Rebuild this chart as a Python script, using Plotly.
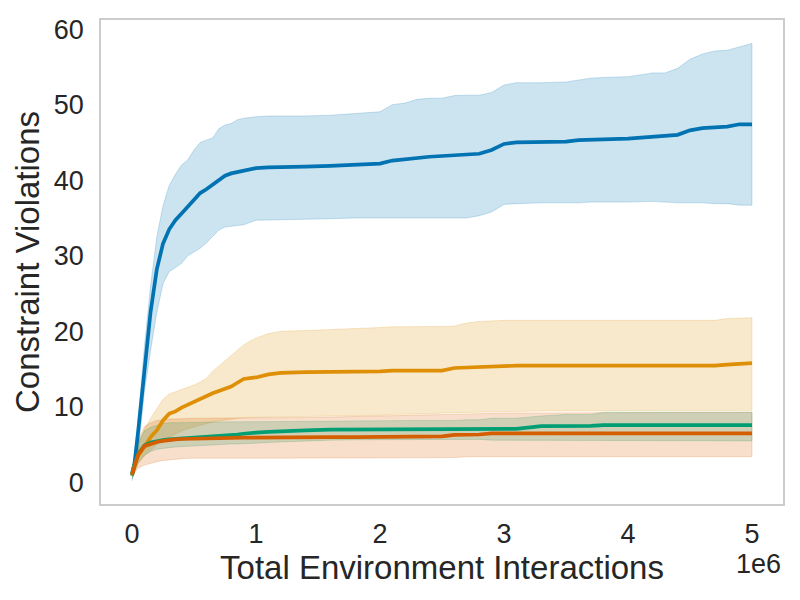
import plotly.graph_objects as go

# x positions in millions of environment interactions
x_m = [0, 0.02, 0.05, 0.1, 0.15, 0.2, 0.25, 0.3, 0.35, 0.4, 0.45, 0.5, 0.55, 0.6, 0.65, 0.7,
       0.75, 0.8, 0.85, 0.9, 0.95, 1.0, 1.1, 1.2, 1.4, 1.6, 1.8, 2.0, 2.1, 2.2, 2.3, 2.4, 2.5,
       2.6, 2.7, 2.8, 2.9, 3.0, 3.1, 3.3, 3.5, 3.6, 3.7, 3.8, 4.0, 4.2, 4.3, 4.4, 4.5, 4.6,
       4.7, 4.8, 4.9, 5.0]

blue_mean = [1.2, 2.5, 6.8, 15.3, 22.6, 28.2, 31.6, 33.5, 34.7, 35.6, 36.5, 37.4, 38.3, 38.8, 39.4, 40.1,
             40.6, 40.9, 41.1, 41.3, 41.4, 41.6, 41.7, 41.7, 41.8, 41.9, 42.0, 42.2, 42.6, 42.8, 43.0, 43.1, 43.2,
             43.3, 43.4, 43.5, 44.0, 44.8, 45.0, 45.0, 45.1, 45.3, 45.4, 45.4, 45.5, 45.7, 45.8, 46.0, 46.6, 46.9,
             47.0, 47.1, 47.4, 47.4]
blue_upper = [1.8, 3.5, 8.5, 18.0, 26.0, 32.5, 36.6, 39.3, 40.8, 42.0, 42.7, 44.0, 45.0, 45.3, 45.6, 46.8,
              47.3, 47.5, 48.0, 48.2, 48.3, 48.4, 48.5, 48.5, 48.5, 48.6, 48.8, 49.05, 50.0, 50.2, 50.7, 50.85, 50.85,
              51.2, 51.25, 51.25, 51.6, 52.6, 52.9, 52.9, 53.0, 53.3, 53.5, 53.6, 53.7, 54.2, 54.2, 54.8, 56.0, 56.7,
              57.1, 57.2, 57.7, 58.1]
blue_lower = [0.2, 1.5, 4.0, 12.0, 17.5, 22.5, 26.3, 27.9, 28.4, 29.0, 30.0, 30.5, 31.0, 31.7, 32.5, 33.4,
              33.8, 33.9, 34.0, 34.1, 34.4, 34.7, 34.7, 34.7, 34.8, 34.9, 35.0, 35.0, 35.0, 35.0, 35.0, 35.0, 35.0,
              35.0, 35.0, 35.3, 35.8, 36.8, 36.9, 37.0, 37.0, 37.0, 37.1, 37.1, 37.1, 37.2, 37.1, 37.0, 37.0, 37.0,
              36.9, 36.9, 36.7, 36.7]

orange_mean = [1.0, 2.3, 3.5, 4.8, 6.0, 6.9, 8.2, 9.1, 9.4, 9.9, 10.3, 10.6, 11.0, 11.4, 11.8, 12.1,
               12.4, 12.7, 13.2, 13.7, 13.8, 13.9, 14.3, 14.5, 14.6, 14.6, 14.7, 14.7, 14.8, 14.8, 14.8, 14.8, 14.8,
               15.15, 15.2, 15.35, 15.4, 15.45, 15.45, 15.45, 15.45, 15.45, 15.45, 15.45, 15.45, 15.45, 15.45, 15.45, 15.45, 15.45,
               15.45, 15.6, 15.65, 15.8]
orange_upper = [1.2, 3.2, 5.0, 7.0, 8.5, 9.8, 11.0, 11.7, 12.0, 12.3, 12.5, 12.9, 13.3, 13.8, 14.7, 15.4,
                16.2, 16.9, 17.6, 18.2, 18.7, 19.1, 19.7, 20.0, 20.1, 20.2, 20.3, 20.5, 20.6, 20.6, 20.6, 20.65, 20.65,
                20.7, 21.1, 21.3, 21.4, 21.45, 21.45, 21.45, 21.45, 21.45, 21.45, 21.45, 21.45, 21.45, 21.45, 21.45, 21.45, 21.45,
                21.45, 21.7, 21.75, 21.8]
orange_lower = [0.6, 1.5, 2.5, 3.5, 4.3, 5.0, 5.6, 6.0, 6.4, 6.8, 7.1, 7.4, 7.6, 7.8, 8.0, 8.2,
                8.3, 8.4, 8.5, 8.6, 8.6, 8.6, 8.65, 8.7, 8.75, 8.8, 8.85, 8.9, 9.0, 9.0, 9.1, 9.1, 9.2,
                9.2, 9.3, 9.3, 9.35, 9.4, 9.4, 9.45, 9.45, 9.45, 9.45, 9.5, 9.5, 9.5, 9.5, 9.5, 9.5, 9.5,
                9.5, 9.55, 9.55, 9.55]

green_mean = [0.9, 2.3, 3.8, 4.9, 5.3, 5.5, 5.6, 5.7, 5.75, 5.8, 5.85, 5.9, 6.0, 6.1, 6.1, 6.2,
              6.25, 6.3, 6.35, 6.45, 6.55, 6.6, 6.7, 6.8, 6.9, 7.0, 7.0, 7.0, 7.0, 7.0, 7.0, 7.0, 7.0,
              7.05, 7.05, 7.05, 7.1, 7.1, 7.1, 7.45, 7.45, 7.45, 7.5, 7.6, 7.6, 7.6, 7.6, 7.6, 7.6, 7.6,
              7.6, 7.6, 7.6, 7.6]
green_upper = [1.2, 3.2, 5.2, 6.8, 7.3, 7.6, 7.8, 7.9, 7.9, 7.9, 7.95, 7.95, 7.95, 8.0, 8.0, 8.0,
               8.0, 8.0, 8.0, 8.0, 8.0, 8.0, 8.05, 8.1, 8.1, 8.1, 8.15, 8.2, 8.2, 8.2, 8.2, 8.2, 8.2,
               8.2, 8.3, 8.3, 8.5, 8.5, 8.5, 8.8, 9.0, 9.0, 9.0, 9.3, 9.3, 9.3, 9.3, 9.3, 9.3, 9.3,
               9.3, 9.3, 9.3, 9.3]
green_lower = [0.5, 1.4, 2.6, 3.6, 4.1, 4.4, 4.5, 4.6, 4.7, 4.8, 4.85, 4.9, 4.95, 5.0, 5.0, 5.05,
               5.05, 5.1, 5.1, 5.15, 5.15, 5.2, 5.3, 5.4, 5.5, 5.6, 5.65, 5.7, 5.7, 5.7, 5.7, 5.7, 5.7,
               5.7, 5.7, 5.7, 5.6, 5.5, 5.5, 5.5, 5.5, 5.5, 5.5, 5.5, 5.5, 5.5, 5.5, 5.5, 5.5, 5.5,
               5.5, 5.5, 5.5, 5.5]

verm_mean = [1.0, 2.2, 3.7, 4.8, 5.1, 5.35, 5.5, 5.65, 5.7, 5.75, 5.78, 5.8, 5.82, 5.85, 5.87, 5.9,
             5.9, 5.9, 5.92, 5.93, 5.94, 5.95, 5.97, 6.0, 6.0, 6.0, 6.0, 6.0, 6.02, 6.05, 6.07, 6.1, 6.1,
             6.3, 6.32, 6.35, 6.5, 6.5, 6.5, 6.5, 6.5, 6.5, 6.5, 6.5, 6.5, 6.5, 6.5, 6.5, 6.5, 6.5,
             6.5, 6.5, 6.5, 6.5]
verm_upper = [1.3, 3.0, 5.5, 7.4, 7.9, 8.2, 8.3, 8.4, 8.4, 8.45, 8.45, 8.5, 8.5, 8.5, 8.5, 8.5,
              8.5, 8.5, 8.5, 8.5, 8.5, 8.5, 8.52, 8.55, 8.6, 8.65, 8.7, 8.8, 8.85, 8.9, 8.9, 8.95, 9.0,
              9.0, 9.05, 9.1, 9.15, 9.2, 9.2, 9.2, 9.2, 9.25, 9.25, 9.25, 9.3, 9.3, 9.3, 9.3, 9.3, 9.3,
              9.3, 9.3, 9.3, 9.3]
verm_lower = [0.5, 1.3, 1.9, 2.3, 2.55, 2.75, 2.9, 3.0, 3.08, 3.15, 3.2, 3.25, 3.25, 3.26, 3.26, 3.26,
              3.26, 3.26, 3.26, 3.26, 3.26, 3.26, 3.26, 3.26, 3.26, 3.26, 3.26, 3.26, 3.26, 3.26, 3.26, 3.26, 3.26,
              3.3, 3.4, 3.4, 3.4, 3.4, 3.4, 3.4, 3.4, 3.4, 3.4, 3.4, 3.4, 3.4, 3.4, 3.4, 3.4, 3.4,
              3.4, 3.4, 3.4, 3.4]

x_tick_vals = [0, 1, 2, 3, 4, 5]
x_tick_labels = ["0", "1", "2", "3", "4", "5"]
y_tick_vals = [0, 10, 20, 30, 40, 50, 60]

x = [v * 1e6 for v in x_m]

series = [
    (blue_mean, blue_upper, blue_lower, (1, 115, 178)),
    (orange_mean, orange_upper, orange_lower, (222, 143, 5)),
    (green_mean, green_upper, green_lower, (2, 158, 115)),
    (verm_mean, verm_upper, verm_lower, (213, 94, 0)),
]

fig = go.Figure()
# shaded bands first
for mean, up, lo, (r, g, b) in series:
    fig.add_trace(go.Scatter(x=x + x[::-1], y=up + lo[::-1], mode="lines",
                             fill="toself", fillcolor=f"rgba({r},{g},{b},0.2)",
                             line=dict(color=f"rgba({r},{g},{b},0.2)", width=1),
                             showlegend=False, hoverinfo="skip"))
# mean lines on top
for mean, up, lo, (r, g, b) in series:
    fig.add_trace(go.Scatter(x=x, y=mean, mode="lines",
                             line=dict(color=f"rgb({r},{g},{b})", width=3.7),
                             showlegend=False, hoverinfo="skip"))

font_fam = "Liberation Sans, Arial, sans-serif"
axis_common = dict(showgrid=False, zeroline=False, showline=True, mirror=True,
                   linecolor="#cccccc", linewidth=1.5, automargin=False,
                   ticks="outside", tickcolor="rgba(0,0,0,0)",
                   tickfont=dict(family=font_fam, size=27, color="#262626"))

fig.update_layout(
    width=800, height=600,
    margin=dict(l=93, r=25, t=12, b=104),
    paper_bgcolor="white", plot_bgcolor="white",
    font=dict(family=font_fam, color="#262626"),
    xaxis=dict(range=[-0.25e6, 5.25e6], ticklen=5,
               tickvals=[v * 1e6 for v in x_tick_vals], ticktext=x_tick_labels,
               title=dict(text="Total Environment Interactions",
                          font=dict(family=font_fam, size=33, color="#262626"), standoff=0),
               **axis_common),
    yaxis=dict(range=[-2.85, 61.2], tickvals=y_tick_vals, ticklen=10,
               title=dict(text="Constraint Violations",
                          font=dict(family=font_fam, size=33, color="#262626"), standoff=4),
               **axis_common),
    annotations=[dict(text="1e6", xref="paper", yref="paper", x=1.0, y=-0.088,
                      xanchor="right", yanchor="top", showarrow=False,
                      font=dict(family=font_fam, size=27, color="#262626"))],
)

fig.write_html("out.html")
